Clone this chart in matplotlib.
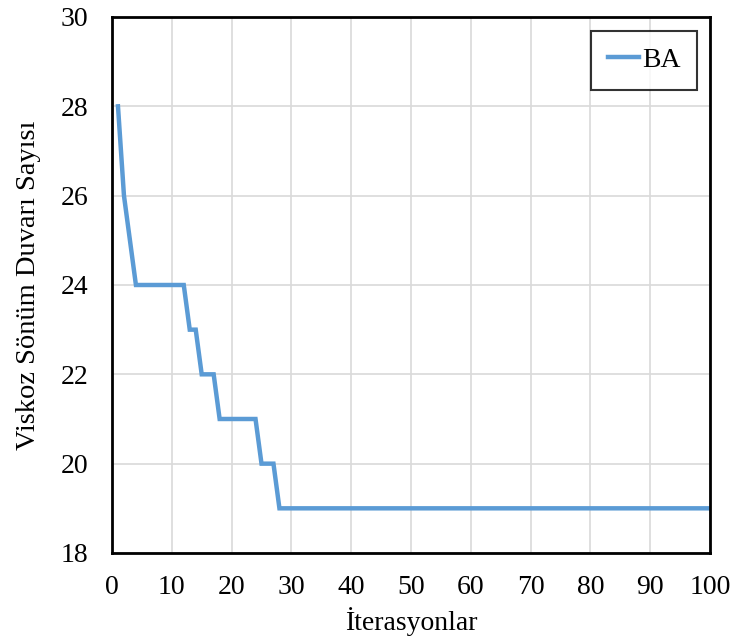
import matplotlib
matplotlib.use("Agg")
import matplotlib.pyplot as plt

iterations = list(range(1, 101))
values = [28, 26, 25, 24, 24, 24, 24, 24, 24, 24, 24, 24, 23, 23, 22, 22, 22, 21, 21, 21,
          21, 21, 21, 21, 20, 20, 20] + [19] * 73
x_ticks = list(range(0, 101, 10))
y_ticks = list(range(18, 31, 2))

plt.rcParams['font.family'] = ['Liberation Serif', 'DejaVu Serif']

fig = plt.figure(figsize=(7.33, 6.39), dpi=100)
ax = fig.add_axes([0.1528, 0.1346, 0.8158, 0.8388])
ax.plot(iterations, values, color='#5B9BD5', linewidth=3.2, label='BA', solid_joinstyle='miter')
ax.set_xlim(0, 100)
ax.set_ylim(18, 30)
ax.set_xticks(x_ticks)
ax.set_yticks(y_ticks)
ax.grid(True, color='#D9D9D9', linewidth=1.2)
ax.set_axisbelow(True)
for s in ax.spines.values():
    s.set_linewidth(2)
    s.set_color('black')
ax.tick_params(axis='both', length=0, labelsize=20)
ax.tick_params(axis='y', pad=17)
ax.tick_params(axis='x', pad=16)
ax.set_xlabel('İterasyonlar', fontsize=20, labelpad=5)
ax.set_ylabel('Viskoz Sönüm Duvarı Sayısı', fontsize=20.5, labelpad=14)
leg = ax.legend(loc='upper right', fontsize=20, frameon=True, fancybox=False,
                edgecolor='black', handlelength=1.15, handletextpad=0.1,
                borderpad=0.6, borderaxespad=0, bbox_to_anchor=(0.979, 0.974))
leg.get_frame().set_linewidth(1.5)
fig.savefig('out.png', dpi=100, facecolor='white')
